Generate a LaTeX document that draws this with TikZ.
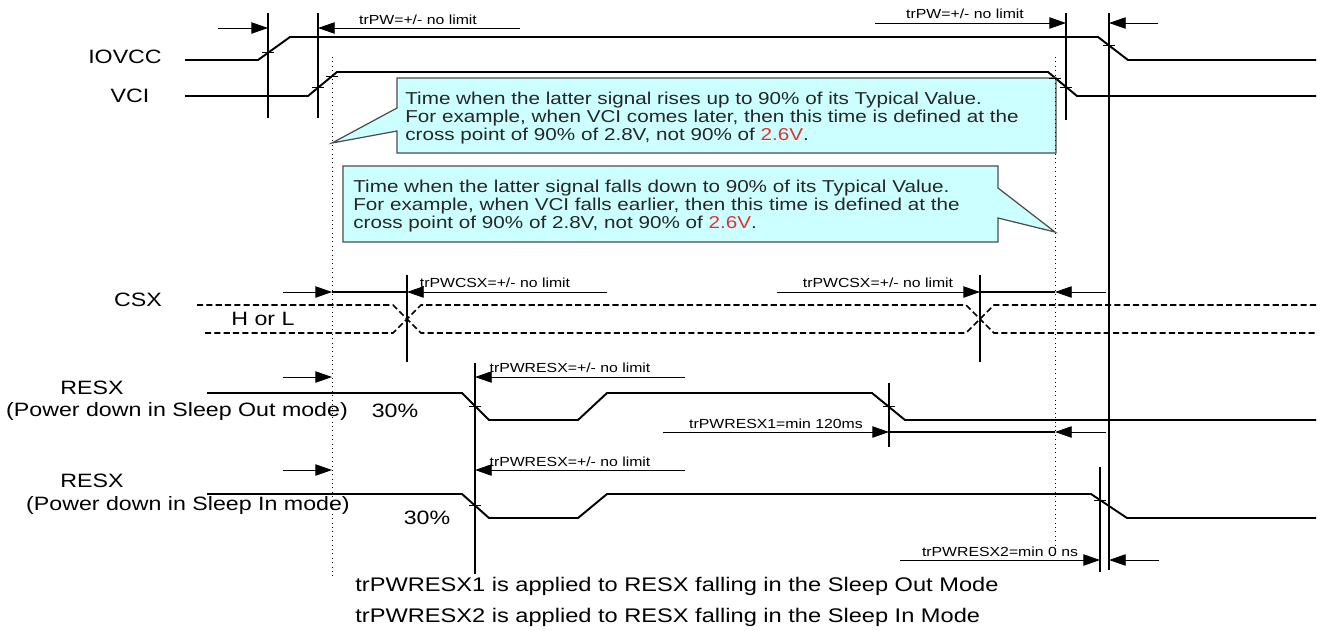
\documentclass[tikz,border=0pt]{standalone}
\usepackage{fontspec}
\setmainfont{Liberation Sans}[FakeStretch=1.2]
\usepackage{xcolor}
\usetikzlibrary{calc}
\usetikzlibrary{arrows.meta}
\tikzstyle{dimarrow} = [line width=0.5pt,-{Triangle[length=9.5pt,width=6.5pt]}]
\tikzstyle{sig} = [line width=1.1pt]
\tikzstyle{vline} = [line width=0.6pt]
\definecolor{calloutfill}{RGB}{204,255,255}
\definecolor{notered}{RGB}{225,50,50}

\begin{document}
\begin{tikzpicture}[x=0.02cm, y=-0.02cm,
				lbl/.style= {font=\fontsize{11}{13}\selectfont},
				sml/.style= {font=\fontsize{7.5}{9}\selectfont, inner sep=0pt},
				note/.style= {font=\fontsize{9.8}{10.2}\selectfont, align=left, anchor=north west, inner sep=0pt, text=black!85},
				foot/.style= {font=\fontsize{11.2}{13}\selectfont, anchor=west, inner sep=0pt},
				tck/.style= {line width=0.5pt},
				dashsig/.style= {line width=0.9pt, dash pattern=on 3.5pt off 1.8pt},
				dots/.style= {line width=0.5pt, dotted},
				bubble/.style= {fill=calloutfill, draw=black!70, line width=0.7pt}
			]
			\useasboundingbox (0,0) rectangle (1321,630);
			
			\node (iovcc) [lbl] at (125,57) {IOVCC};
			\node (vci) [lbl] at (130,96) {VCI};
			\node (csx) [lbl] at (138,300) {CSX};
			\node (hl) [lbl] at (263,319) {H or L};
			\node (resxa) [lbl] at (92,388) {RESX};
			\node (modea) [lbl] at (177,411) {(Power down in Sleep Out mode)};
			\node (pcta) [lbl] at (395,411) {30\%};
			\node (resxb) [lbl] at (92,481) {RESX};
			\node (modeb) [lbl] at (188,505) {(Power down in Sleep In mode)};
			\node (pctb) [lbl] at (427,518) {30\%};
			
			\draw [sig] (185,60) -- (258,60) -- (290,37) -- (1098,37) -- (1128,60) -- (1316,60);
			\draw [sig] (185,96) -- (308,96) -- (337,72) -- (1048,72) -- (1077,96) -- (1316,96);
			\draw [sig] (207,393) -- (462,393) -- (489,420) -- (578,420) -- (607,393) -- (872,393) -- (905,420) -- (1316,420);
			\draw [sig] (207,494) -- (462,494) -- (489,518) -- (578,518) -- (607,494) -- (1091,494) -- (1127,518) -- (1316,518);
			
			\draw [dashsig] (197,305) -- (393,305) -- (421,333) -- (966,333) -- (994,305) -- (1316,305);
			\draw [dashsig] (205,333) -- (393,333) -- (421,305) -- (966,305) -- (994,333) -- (1316,333);
			
			\draw [bubble] (397,78) -- (1056,78) -- (1056,153) -- (397,153) -- (397,131) -- (332,143) -- (397,108) -- cycle;
			\draw [bubble] (343,166) -- (998,166) -- (998,188) -- (1055,232) -- (998,218) -- (998,242) -- (343,242) -- cycle;
			\node (notea) [note] at (405,92) {Time when the latter signal rises up to 90\% of its Typical Value.\\
				For example, when VCI comes later, then this time is defined at the\\
				cross point of 90\% of 2.8V, not 90\% of \textcolor{notered}{2.6V}.};
			\node (noteb) [note] at (353,180) {Time when the latter signal falls down to 90\% of its Typical Value.\\
				For example, when VCI falls earlier, then this time is defined at the\\
				cross point of 90\% of 2.8V, not 90\% of \textcolor{notered}{2.6V}.};
			
			\draw [vline] (268,13) -- (268,118);
			\draw [vline] (318,13) -- (318,118);
			\draw [vline] (1066,13) -- (1066,120);
			\draw [vline] (1109,13) -- (1109,570);
			\draw [vline] (407,275) -- (407,362);
			\draw [vline] (980,275) -- (980,362);
			\draw [vline] (475,363) -- (475,574);
			\draw [vline] (889,383) -- (889,447);
			\draw [vline] (1100,467) -- (1100,572);
			\draw [dots] (332,57) -- (332,578);
			\draw [dots] (1055,57) -- (1055,555);
			
			\foreach \x/\y in {268/52.8, 318/87.7, 332/76, 1109/45.4, 1066/87, 1055/78, 475/406, 889/406, 475/505.6, 1100/500}{
				\draw [tck] (\x-6,\y) -- (\x+6,\y);
			}
			
			\coordinate (pw0) at (218,28);
			\coordinate (pw1) at (268,28);
			\coordinate (pw2) at (318,28);
			\coordinate (pw3) at (520,28);
			\draw [dimarrow] (pw0) -- (pw1);
			\draw [dimarrow] (pw3) -- (pw2);
			\node (pwlbla) [sml] at (418,20) {trPW=+/- no limit};
			
			\coordinate (pw4) at (875,23);
			\coordinate (pw5) at (1066,23);
			\coordinate (pw6) at (1109,23);
			\coordinate (pw7) at (1158,23);
			\draw [dimarrow] (pw4) -- (pw5);
			\draw [dimarrow] (pw7) -- (pw6);
			\node (pwlblb) [sml] at (965,14) {trPW=+/- no limit};
			
			\coordinate (cs0) at (283,292);
			\coordinate (cs1) at (332,292);
			\coordinate (cs2) at (407,292);
			\coordinate (cs3) at (607,292);
			\draw [dimarrow] (cs0) -- (cs1);
			\draw [vline] (cs1) -- (cs2);
			\draw [dimarrow] (cs3) -- (cs2);
			\node (cslbla) [sml] at (495,283) {trPWCSX=+/- no limit};
			
			\coordinate (cs4) at (777,292);
			\coordinate (cs5) at (980,292);
			\coordinate (cs6) at (1055,292);
			\coordinate (cs7) at (1106,292);
			\draw [dimarrow] (cs4) -- (cs5);
			\draw [vline] (cs5) -- (cs6);
			\draw [dimarrow] (cs7) -- (cs6);
			\node (cslblb) [sml] at (878,283) {trPWCSX=+/- no limit};
			
			\coordinate (ra0) at (283,377);
			\coordinate (ra1) at (332,377);
			\coordinate (ra2) at (475,377);
			\coordinate (ra3) at (685,377);
			\draw [dimarrow] (ra0) -- (ra1);
			\draw [dimarrow] (ra3) -- (ra2);
			\node (ralbl) [sml] at (570,368) {trPWRESX=+/- no limit};
			
			\coordinate (rb0) at (663,432);
			\coordinate (rb1) at (889,432);
			\coordinate (rb2) at (1055,432);
			\coordinate (rb3) at (1106,432);
			\draw [dimarrow] (rb0) -- (rb1);
			\draw [vline] (rb1) -- (rb2);
			\draw [dimarrow] (rb3) -- (rb2);
			\node (rblbl) [sml] at (776,424) {trPWRESX1=min 120ms};
			
			\coordinate (rc0) at (283,470);
			\coordinate (rc1) at (332,470);
			\coordinate (rc2) at (475,470);
			\coordinate (rc3) at (685,470);
			\draw [dimarrow] (rc0) -- (rc1);
			\draw [dimarrow] (rc3) -- (rc2);
			\node (rclbl) [sml] at (570,462) {trPWRESX=+/- no limit};
			
			\coordinate (rd0) at (900,560);
			\coordinate (rd1) at (1100,560);
			\coordinate (rd2) at (1109,560);
			\coordinate (rd3) at (1159,560);
			\draw [dimarrow] (rd0) -- (rd1);
			\draw [dimarrow] (rd3) -- (rd2);
			\node (rdlbl) [sml] at (1000,552) {trPWRESX2=min 0 ns};
			
			\node (foota) [foot] at (355,586) {trPWRESX1 is applied to RESX falling in the Sleep Out Mode};
			\node (footb) [foot] at (355,617) {trPWRESX2 is applied to RESX falling in the Sleep In Mode};
		\end{tikzpicture}
\end{document}
